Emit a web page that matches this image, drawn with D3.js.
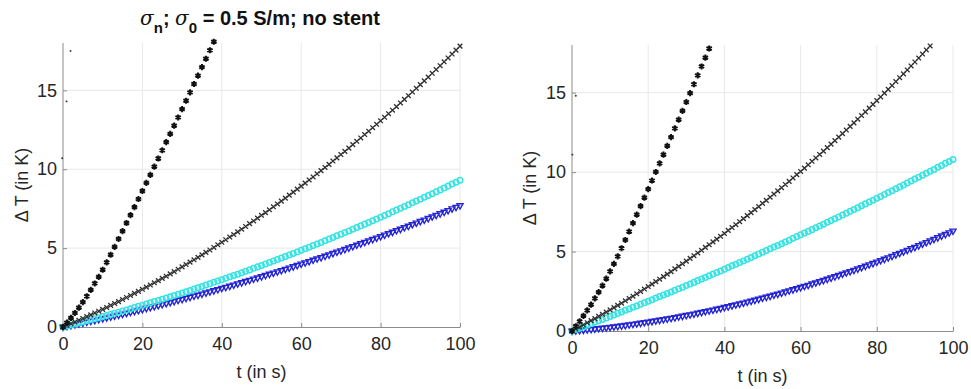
<!DOCTYPE html>
<html>
<head>
<meta charset="utf-8">
<script src="https://cdn.jsdelivr.net/npm/d3@7"></script>
<style>
  html, body { margin: 0; padding: 0; background: #fff; }
  svg { display: block; font-family: "Liberation Sans", Arial, sans-serif; }
</style>
</head>
<body>
<svg id="chart" width="971" height="389"></svg>
<script>
// sample times: one marker per second, index = t (s)
const tSec = d3.range(0, 101);

const xTicks = [0, 20, 40, 60, 80, 100];
const yTicks = [0, 5, 10, 15];

// left panel: sigma_n; sigma_0 = 0.5 S/m; no stent
const leftStar = [0, 0.28, 0.58, 0.89, 1.23, 1.58, 1.95, 2.35, 2.76, 3.18, 3.63, 4.10, 4.58, 5.08, 5.58, 6.08, 6.59, 7.09, 7.60, 8.11,
  8.62, 9.13, 9.64, 10.16, 10.68, 11.20, 11.72, 12.24, 12.76, 13.28, 13.81, 14.34, 14.87, 15.40, 15.93, 16.47, 17.00, 17.54, 18.08];
const leftCross = [0, 0.11, 0.21, 0.32, 0.43, 0.54, 0.66, 0.77, 0.89, 1.00, 1.12, 1.24, 1.37, 1.49, 1.61, 1.74, 1.87, 2.00, 2.13, 2.26,
  2.39, 2.53, 2.66, 2.80, 2.94, 3.08, 3.22, 3.37, 3.51, 3.66, 3.81, 3.96, 4.11, 4.26, 4.41, 4.57, 4.73, 4.88, 5.04, 5.21,
  5.37, 5.53, 5.70, 5.86, 6.03, 6.20, 6.37, 6.55, 6.72, 6.90, 7.08, 7.25, 7.43, 7.62, 7.80, 7.98, 8.17, 8.36, 8.55, 8.74,
  8.93, 9.12, 9.32, 9.51, 9.71, 9.91, 10.11, 10.31, 10.52, 10.72, 10.93, 11.13, 11.34, 11.56, 11.77, 11.98, 12.20, 12.41, 12.63, 12.85,
  13.07, 13.29, 13.52, 13.74, 13.97, 14.20, 14.43, 14.66, 14.89, 15.13, 15.36, 15.60, 15.84, 16.08, 16.32, 16.56, 16.81, 17.05, 17.30, 17.55, 17.80];
const leftCyan = [0, 0.06, 0.13, 0.19, 0.26, 0.32, 0.39, 0.46, 0.52, 0.59, 0.66, 0.73, 0.80, 0.87, 0.94, 1.01, 1.08, 1.16, 1.23, 1.31,
  1.38, 1.46, 1.53, 1.61, 1.68, 1.76, 1.84, 1.92, 2.00, 2.08, 2.16, 2.24, 2.32, 2.41, 2.49, 2.57, 2.66, 2.74, 2.83, 2.91,
  3.00, 3.09, 3.18, 3.26, 3.35, 3.44, 3.53, 3.62, 3.72, 3.81, 3.90, 3.99, 4.09, 4.18, 4.28, 4.37, 4.47, 4.57, 4.66, 4.76,
  4.86, 4.96, 5.06, 5.16, 5.26, 5.36, 5.46, 5.57, 5.67, 5.78, 5.88, 5.99, 6.09, 6.20, 6.30, 6.41, 6.52, 6.63, 6.74, 6.85,
  6.96, 7.07, 7.18, 7.30, 7.41, 7.52, 7.64, 7.75, 7.87, 7.98, 8.10, 8.22, 8.34, 8.45, 8.57, 8.69, 8.81, 8.93, 9.06, 9.18, 9.30];
const leftBlue = [0, 0.05, 0.10, 0.16, 0.21, 0.26, 0.32, 0.37, 0.42, 0.48, 0.54, 0.59, 0.65, 0.71, 0.76, 0.82, 0.88, 0.94, 1.00, 1.06,
  1.12, 1.19, 1.25, 1.31, 1.37, 1.44, 1.50, 1.57, 1.63, 1.70, 1.76, 1.83, 1.90, 1.97, 2.03, 2.10, 2.17, 2.24, 2.31, 2.38,
  2.46, 2.53, 2.60, 2.67, 2.75, 2.82, 2.90, 2.97, 3.05, 3.12, 3.20, 3.28, 3.36, 3.43, 3.51, 3.59, 3.67, 3.75, 3.83, 3.91,
  4.00, 4.08, 4.16, 4.25, 4.33, 4.41, 4.50, 4.58, 4.67, 4.76, 4.84, 4.93, 5.02, 5.11, 5.20, 5.29, 5.38, 5.47, 5.56, 5.65,
  5.74, 5.84, 5.93, 6.02, 6.12, 6.21, 6.31, 6.40, 6.50, 6.60, 6.70, 6.79, 6.89, 6.99, 7.09, 7.19, 7.29, 7.39, 7.50, 7.60, 7.70];
const leftDots = [[1.9, 17.5], [0.9, 14.3], [-0.2, 10.7]];

// right panel
const rightStar = [0, 0.30, 0.61, 0.95, 1.30, 1.66, 2.05, 2.45, 2.86, 3.30, 3.75, 4.22, 4.70, 5.21, 5.73, 6.26, 6.79, 7.32, 7.86, 8.39,
  8.93, 9.47, 10.01, 10.55, 11.10, 11.65, 12.20, 12.75, 13.30, 13.85, 14.41, 14.97, 15.53, 16.09, 16.65, 17.21, 17.78];
const rightCross = [0, 0.13, 0.25, 0.38, 0.52, 0.65, 0.78, 0.92, 1.05, 1.19, 1.33, 1.47, 1.61, 1.75, 1.90, 2.05, 2.19, 2.34, 2.49, 2.64,
  2.80, 2.95, 3.11, 3.26, 3.42, 3.58, 3.74, 3.91, 4.07, 4.23, 4.40, 4.57, 4.74, 4.91, 5.08, 5.26, 5.43, 5.61, 5.78, 5.96,
  6.14, 6.33, 6.51, 6.69, 6.88, 7.07, 7.26, 7.45, 7.64, 7.83, 8.03, 8.22, 8.42, 8.62, 8.82, 9.02, 9.22, 9.42, 9.63, 9.84,
  10.04, 10.25, 10.46, 10.68, 10.89, 11.11, 11.32, 11.54, 11.76, 11.98, 12.20, 12.42, 12.65, 12.88, 13.10, 13.33, 13.56, 13.79, 14.03, 14.26,
  14.50, 14.73, 14.97, 15.21, 15.45, 15.70, 15.94, 16.18, 16.43, 16.68, 16.93, 17.18, 17.43, 17.69, 17.94];
const rightCyan = [0, 0.09, 0.18, 0.27, 0.36, 0.45, 0.55, 0.64, 0.73, 0.82, 0.92, 1.01, 1.11, 1.20, 1.30, 1.39, 1.49, 1.58, 1.68, 1.78,
  1.87, 1.97, 2.07, 2.17, 2.26, 2.36, 2.46, 2.56, 2.66, 2.76, 2.86, 2.96, 3.06, 3.17, 3.27, 3.37, 3.47, 3.58, 3.68, 3.78,
  3.89, 3.99, 4.10, 4.20, 4.31, 4.41, 4.52, 4.63, 4.73, 4.84, 4.95, 5.06, 5.17, 5.28, 5.38, 5.49, 5.60, 5.71, 5.83, 5.94,
  6.05, 6.16, 6.27, 6.38, 6.50, 6.61, 6.72, 6.84, 6.95, 7.07, 7.18, 7.30, 7.41, 7.53, 7.65, 7.76, 7.88, 8.00, 8.12, 8.23,
  8.35, 8.47, 8.59, 8.71, 8.83, 8.95, 9.07, 9.19, 9.31, 9.44, 9.56, 9.68, 9.80, 9.93, 10.05, 10.17, 10.30, 10.42, 10.55, 10.67, 10.80];
const rightBlue = [0, 0.02, 0.04, 0.06, 0.09, 0.11, 0.14, 0.16, 0.19, 0.21, 0.24, 0.27, 0.30, 0.33, 0.36, 0.40, 0.43, 0.46, 0.50, 0.54,
  0.57, 0.61, 0.65, 0.69, 0.73, 0.77, 0.81, 0.85, 0.90, 0.94, 0.99, 1.03, 1.08, 1.13, 1.18, 1.23, 1.28, 1.33, 1.38, 1.43,
  1.49, 1.54, 1.60, 1.66, 1.71, 1.77, 1.83, 1.89, 1.95, 2.01, 2.08, 2.14, 2.20, 2.27, 2.33, 2.40, 2.47, 2.54, 2.61, 2.68,
  2.75, 2.82, 2.89, 2.97, 3.04, 3.12, 3.19, 3.27, 3.35, 3.43, 3.51, 3.59, 3.67, 3.75, 3.83, 3.92, 4.00, 4.09, 4.18, 4.26,
  4.35, 4.44, 4.53, 4.62, 4.71, 4.81, 4.90, 4.99, 5.09, 5.19, 5.28, 5.38, 5.48, 5.58, 5.68, 5.78, 5.88, 5.99, 6.09, 6.19, 6.30];
const rightDots = [[1.0, 14.8], [0.1, 11.1]];

const svg = d3.select('#chart');

const marker = {
  star:  { type: d3.symbolAsterisk, size: 26, stroke: '#111', width: 2, rotate: 0 },
  cross: { type: d3.symbolTimes, size: 16, stroke: '#2e2e2e', width: 1.3, rotate: 0 },
  cyan:  { type: d3.symbolCircle, size: 24, stroke: '#36e3e3', width: 1.5, rotate: 0 },
  blue:  { type: d3.symbolTriangle, size: 16, stroke: '#2424d4', width: 1.4, rotate: 180 },
  dot:   { type: d3.symbolCircle, size: 3, stroke: 'none', fill: '#333', width: 0, rotate: 0 }
};

function drawPanel(p) {
  const x = d3.scaleLinear().domain([0, 100]).range([p.left, p.right]);
  const y = d3.scaleLinear().domain([0, 18]).range([p.bottom, p.top]);
  const g = svg.append('g');

  // grid
  g.append('g').selectAll('line').data(xTicks.slice(1)).enter().append('line')
    .attr('x1', d => x(d)).attr('x2', d => x(d))
    .attr('y1', p.top).attr('y2', p.bottom)
    .attr('stroke', '#e8e8e8');
  g.append('g').selectAll('line').data(yTicks.slice(1)).enter().append('line')
    .attr('x1', p.left).attr('x2', p.right)
    .attr('y1', d => y(d)).attr('y2', d => y(d))
    .attr('stroke', '#e8e8e8');

  // axes (box off, ticks inward)
  const ax = g.append('g').attr('transform', `translate(0,${p.bottom})`)
    .call(d3.axisBottom(x).tickValues(xTicks).tickSizeInner(-4).tickSizeOuter(0).tickPadding(10));
  const ay = g.append('g').attr('transform', `translate(${p.left},0)`)
    .call(d3.axisLeft(y).tickValues(yTicks).tickSizeInner(-4).tickSizeOuter(0).tickPadding(6));
  ay.select('.domain').attr('d', `M0,${p.top}V${p.bottom}`);
  [ax, ay].forEach(a => {
    a.select('.domain').attr('stroke', '#8c8c8c');
    a.selectAll('.tick line').attr('stroke', '#8c8c8c');
    a.selectAll('.tick text').attr('fill', '#262626')
      .style('font-family', '"Liberation Sans", Arial, sans-serif').style('font-size', '18px');
  });

  // axis labels
  g.append('text').attr('x', (p.left + p.right) / 2).attr('y', p.bottom + 51)
    .attr('text-anchor', 'middle').attr('fill', '#262626').style('font-size', '18px')
    .text('t (in s)');
  g.append('text')
    .attr('transform', `translate(${p.ylabX},${(p.top + p.bottom) / 2}) rotate(-90)`)
    .attr('text-anchor', 'middle').attr('fill', '#262626').style('font-size', '18px')
    .text('\u0394 T (in K)');

  // series
  const series = [
    { key: 'dot', pts: p.dots },
    { key: 'blue', pts: p.blue.map((v, i) => [tSec[i], v]) },
    { key: 'cyan', pts: p.cyan.map((v, i) => [tSec[i], v]) },
    { key: 'cross', pts: p.cross.map((v, i) => [tSec[i], v]) },
    { key: 'star', pts: p.star.map((v, i) => [tSec[i], v]) }
  ];
  series.forEach(s => {
    const m = marker[s.key];
    g.append('g').selectAll('path').data(s.pts).enter().append('path')
      .attr('d', d3.symbol().type(m.type).size(m.size))
      .attr('transform', d => `translate(${x(d[0])},${y(d[1])}) rotate(${m.rotate})`)
      .attr('fill', m.fill || 'none')
      .attr('stroke', m.stroke)
      .attr('stroke-width', m.width);
  });
}

drawPanel({ left: 63, right: 460, top: 43, bottom: 327, ylabX: 28,
  star: leftStar, cross: leftCross, cyan: leftCyan, blue: leftBlue, dots: leftDots });
drawPanel({ left: 572, right: 953, top: 45, bottom: 331, ylabX: 536,
  star: rightStar, cross: rightCross, cyan: rightCyan, blue: rightBlue, dots: rightDots });

// title of left panel (TeX-style sigma with subscripts)
const title = svg.append('text').attr('x', 260).attr('y', 25)
  .attr('text-anchor', 'middle').attr('fill', '#111')
  .style('font-size', '20px').style('font-weight', 'bold');
title.append('tspan').attr('font-style', 'italic').attr('font-weight', 'normal')
  .style('font-family', '"DejaVu Serif", serif').text('\u03C3');
title.append('tspan').attr('dy', 8).style('font-size', '15px').text('n');
title.append('tspan').attr('dy', -8).text('; ');
title.append('tspan').attr('font-style', 'italic').attr('font-weight', 'normal')
  .style('font-family', '"DejaVu Serif", serif').text('\u03C3');
title.append('tspan').attr('dy', 8).style('font-size', '15px').text('0');
title.append('tspan').attr('dy', -8).text(' = 0.5 S/m; no stent');
</script>
</body>
</html>
